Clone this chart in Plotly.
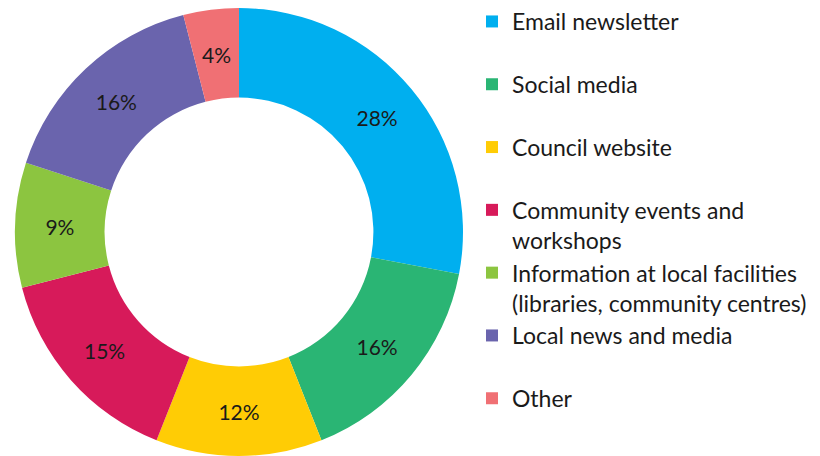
import math
import plotly.graph_objects as go

# Survey: preferred ways of hearing from the council
categories = [
    "Email newsletter",
    "Social media",
    "Council website",
    "Community events and<br>workshops",
    "Information at local facilities<br>(libraries, community centres)",
    "Local news and media",
    "Other",
]
shares = [28, 16, 12, 15, 9, 16, 4]
colors = ["#00AFEF", "#2AB574", "#FFCC05", "#D71A5A", "#8CC540", "#6A64AD", "#F07074"]

W, H = 820, 456
DOMAIN_X = (15, 463)          # pixel extent of the pie domain
DOMAIN_H = 448                # pie domain height (from bottom)
HOLE = 0.6
SMALL = 5                     # slices below this share get their label placed by hand

# single-line entries get an empty second line so every legend entry has the same height
legend_labels = [c if "<br>" in c else c + "<br>&nbsp;" for c in categories]
positions = ["inside" if v >= SMALL else "none" for v in shares]

fig = go.Figure(
    go.Pie(
        labels=legend_labels,
        values=shares,
        hole=HOLE,
        sort=False,
        direction="clockwise",
        rotation=0,
        marker=dict(colors=colors, line=dict(width=0)),
        texttemplate="%{value}%",
        textposition=positions,
        insidetextorientation="horizontal",
        textfont=dict(family="Lato", size=21, color="#1a1a1a"),
        hovertemplate="%{label}: %{value}%<extra></extra>",
        domain=dict(x=[DOMAIN_X[0] / W, DOMAIN_X[1] / W], y=[0, DOMAIN_H / H]),
    )
)

# labels for thin slices: centred on the middle of the ring, at the slice's mid angle
cx = (DOMAIN_X[0] + DOMAIN_X[1]) / 2
cy = DOMAIN_H / 2
r_outer = DOMAIN_H / 2
r_mid = r_outer * (1 + HOLE) / 2
total = sum(shares)
cum = 0
for v in shares:
    if v < SMALL:
        theta = 2 * math.pi * (cum + v / 2) / total
        fig.add_annotation(
            x=(cx + r_mid * math.sin(theta)) / W,
            y=(cy + r_mid * math.cos(theta)) / H,
            xref="paper", yref="paper",
            xanchor="center", yanchor="middle",
            text=f"{v}%", showarrow=False,
            font=dict(family="Lato", size=21, color="#1a1a1a"),
        )
    cum += v

fig.update_layout(
    width=W,
    height=H,
    margin=dict(l=0, r=0, t=0, b=0),
    paper_bgcolor="white",
    plot_bgcolor="white",
    uniformtext=dict(minsize=10, mode="show"),
    legend=dict(
        x=472 / W,
        xanchor="left",
        y=1,
        yanchor="top",
        valign="top",
        font=dict(family="Lato", size=23, color="#1a1a1a"),
        bgcolor="rgba(0,0,0,0)",
    ),
)

fig.write_html("out.html")
